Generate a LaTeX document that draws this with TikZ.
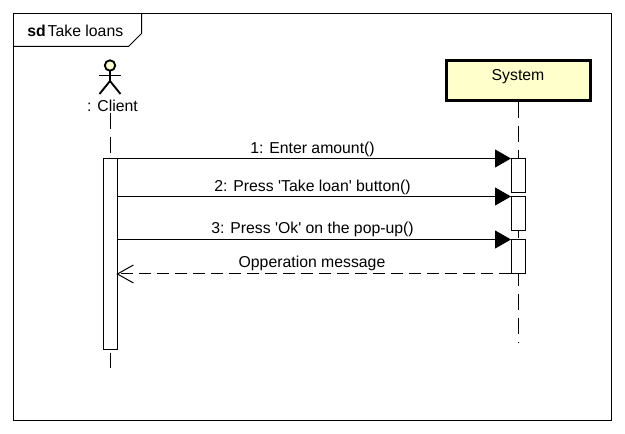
\documentclass[tikz,border=0pt]{standalone}
\usepackage{fontspec}
\setmainfont{Liberation Sans}
\usetikzlibrary{arrows.meta}
\tikzset{
  x=0.75pt,y=-0.75pt,
  base/.style={line width=0.75pt,draw=black},
  lifeline/.style={base,dash pattern=on 12pt off 6pt},
  activation/.style={base,fill=white,rectangle,minimum width=10.5pt,inner sep=0pt,anchor=north},
  call/.style={base,-{Triangle[length=12pt,width=13.5pt,fill=black]}},
  reply/.style={base,dash pattern=on 9pt off 4.5pt,-{Straight Barb[length=12pt,width=13.5pt,line width=0.75pt]},shorten >=-1.2pt},
  lbl/.style={font=\fontsize{11.85pt}{13pt}\selectfont,inner sep=0pt,text=black},
  limb/.style={line width=1.4pt,draw=black},
}
\definecolor{umlyellow}{HTML}{FFFFCC}
\begin{document}
\begin{tikzpicture}
\useasboundingbox (0,0) rectangle (625,434);
\fill[white] (0,0) rectangle (625,434);
% frame
\draw[base] (13.5,13.5) rectangle (611,421);
\draw[base] (13.5,46.5) -- (128.5,46.5) -- (141.5,33.5) -- (141.5,13.5);
\node[lbl,anchor=base west] (title) at (27,36.5) {\textbf{sd}\kern1.5pt Take loans};
% actor
\coordinate (cl) at (110,113);
\coordinate (clend) at (110,368);
\draw[limb] (110,71) -- (110,81);
\draw[limb] (99,75.5) -- (121,75.5);
\draw[limb] (99.5,94) -- (110,81) -- (120.5,94);
\draw[limb,fill=umlyellow] (110,65.5) circle[radius=3.9pt];
\node[lbl] (client) at (112.5,105.5) {: Client};
% system
\node[rectangle,line width=2.25pt,draw=black,fill=umlyellow,minimum width=108pt,minimum height=29.5pt,inner sep=0pt] (system) at (518.5,80.5) {};
\node[lbl] (systemlabel) at (518,77) {System};
\coordinate (sysend) at (518.5,342);
% lifelines
\draw[lifeline] (cl) -- (clend);
\draw[lifeline] (system.south) -- (sysend);
% activations
\node[activation,minimum height=143.25pt] (ac) at (110.5,158.5) {};
\node[activation,minimum height=25.5pt] (a1) at (518.5,158.5) {};
\node[activation,minimum height=25.125pt] (a2) at (518.5,196.5) {};
\node[activation,minimum height=25.125pt] (a3) at (518.5,239.5) {};
% messages
\draw[call] (a1.north west -| ac.east) -- (a1.north west);
\draw[call] (a2.north west -| ac.east) -- (a2.north west);
\draw[call] (a3.north west -| ac.east) -- (a3.north west);
\draw[reply] (a3.south west) -- (a3.south west -| ac.east);
\node[lbl] (m1) at (312.5,149) {1: Enter amount()};
\node[lbl] (m2) at (312.5,187) {2: Press \textquotesingle Take loan\textquotesingle{} button()};
\node[lbl] (m3) at (312.5,229.5) {3: Press \textquotesingle Ok\textquotesingle{} on the pop-up()};
\node[lbl] (m4) at (312,263) {Opperation message};
\end{tikzpicture}
\end{document}
